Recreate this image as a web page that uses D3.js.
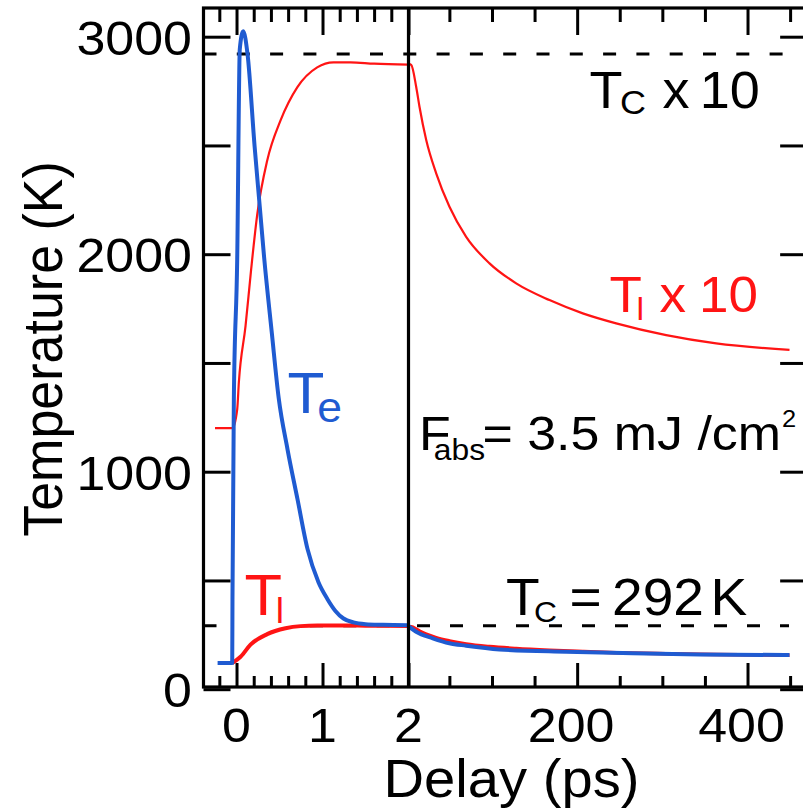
<!DOCTYPE html>
<html>
<head>
<meta charset="utf-8">
<script src="https://cdn.jsdelivr.net/npm/d3@7"></script>
<style>
body { margin: 0; background: #fff; }
svg { display: block; }
text { font-family: "Liberation Sans", Arial, sans-serif; }
</style>
</head>
<body>
<script>
// left panel, 0..2 ps
var teLeftT = [-0.22, -0.05, -0.047, -0.031, 0.008, 0.038, 0.078, 0.128, 0.21, 0.27, 0.32, 0.41, 0.49, 0.593, 0.709, 0.826, 0.953, 1.058, 1.15, 1.244, 1.36, 1.5, 1.7, 2.0];
var teLeft  = [120, 120, 413, 1333, 1977, 2943, 3025, 2920, 2497, 2220, 1990, 1640, 1340, 1103, 874, 644, 492, 414, 360, 325, 307, 299, 296, 294];

var tlLeftT = [-0.05, 0.047, 0.163, 0.357, 0.57, 0.744, 0.94, 1.2, 1.5, 2.0];
var tlLeft  = [120, 149, 205, 253, 280, 290, 293, 293, 292, 290];

var tl10LeftT = [-0.25, -0.047, 0.008, 0.027, 0.105, 0.17, 0.24, 0.357, 0.512, 0.706, 0.938, 1.128, 1.326, 1.6, 2.0];
var tl10Left  = [1200, 1200, 1287, 1410, 1670, 1930, 2180, 2431, 2615, 2767, 2859, 2882, 2882, 2876, 2872];

// right panel, 2..450 ps
var teRightT = [2, 11, 30.5, 50, 69.7, 108.8, 187.1, 265.3, 343.5, 449.3];
var teRight  = [290, 264, 234, 211, 200, 183, 172, 165, 160, 157];

var tl10RightT = [2, 5.2, 11, 14.9, 22.8, 34.5, 50.1, 69.7, 97.1, 128.4, 167.5, 206.6, 245.8, 304.5, 363.2, 449.3];
var tl10Right  = [2875, 2870, 2770, 2678, 2525, 2372, 2218, 2080, 1958, 1866, 1789, 1728, 1682, 1628, 1590, 1560];
var tlRight    = [288, 287, 277, 268, 253, 237, 222, 208, 196, 187, 179, 173, 168, 163, 159, 156];

var tc = 292;
var tc10 = 2920;

var yTickLabels = [0, 1000, 2000, 3000];
var yTicks = [0, 500, 1000, 1500, 2000, 2500, 3000];
var leftMajor = [0, 1, 2];
var leftMinor = [-0.2, 0.2, 0.4, 0.6, 0.8, 1.2, 1.4, 1.6, 1.8];
var rightMajor = [200, 400];
var rightMinor = [50, 100, 150, 250, 300, 350, 450];

var blue = "#1f5bd1";
var red = "#ff1414";
var stretch = 1.06;

var width = 803, height = 810;

var svg = d3.select("body").append("svg")
	.attr("width", width)
	.attr("height", height);

var yScale = d3.scaleLinear().domain([0, 3000]).range([689.2, 36.7]);
var yTop = 8, yBottom = 687;

var xLeft = d3.scaleLinear().domain([-0.384, 2]).range([203.5, 408.5]);
var xRight = d3.scaleLinear().domain([2, 470]).range([408.5, 408.5 + 468 * 0.8518]);
var xEnd = xRight(470);

var zip = (ts, vs) => ts.map((t, i) => [t, vs[i]]);

var lineFor = xs => d3.line()
	.x(d => xs(d[0]))
	.y(d => yScale(d[1]))
	.curve(d3.curveMonotoneX);

// dashed Tc lines
var dashes = svg.append("g")
	.attr("stroke", "black")
	.attr("stroke-width", 3)
	.attr("fill", "none");

dashes.append("line")
	.attr("x1", xLeft.range()[0]).attr("x2", 783)
	.attr("y1", yScale(tc10)).attr("y2", yScale(tc10))
	.attr("stroke-dasharray", "13,20.3");

dashes.append("line")
	.attr("x1", xLeft.range()[0]).attr("x2", xLeft(2))
	.attr("y1", yScale(tc)).attr("y2", yScale(tc))
	.attr("stroke-dasharray", "13,93.5,13,20.3,13,20.3,13,20.3");

dashes.append("line")
	.attr("x1", xRight(2)).attr("x2", 789)
	.attr("y1", yScale(tc)).attr("y2", yScale(tc))
	.attr("stroke-dasharray", "13,20")
	.attr("stroke-dashoffset", 24.5);

// curves
var curves = svg.append("g").attr("fill", "none").attr("stroke-linejoin", "round");

curves.append("path")
	.datum(zip(tl10LeftT, tl10Left))
	.attr("d", lineFor(xLeft))
	.attr("stroke", red)
	.attr("stroke-width", 2.2);

curves.append("path")
	.datum(zip(tl10RightT, tl10Right))
	.attr("d", lineFor(xRight))
	.attr("stroke", red)
	.attr("stroke-width", 2.2);

curves.append("path")
	.datum(zip(tlLeftT, tlLeft))
	.attr("d", lineFor(xLeft))
	.attr("stroke", red)
	.attr("stroke-width", 4);

curves.append("path")
	.datum(zip(tl10RightT, tlRight))
	.attr("d", lineFor(xRight))
	.attr("stroke", red)
	.attr("stroke-width", 3.5);

curves.append("path")
	.datum(zip(teLeftT, teLeft))
	.attr("d", lineFor(xLeft))
	.attr("stroke", blue)
	.attr("stroke-width", 4);

curves.append("path")
	.datum(zip(teRightT, teRight))
	.attr("d", lineFor(xRight))
	.attr("stroke", blue)
	.attr("stroke-width", 4);

// ticks
var addTicks = (axis, values, size, tx, ty) => {
	var g = svg.append("g")
		.attr("transform", "translate(" + tx + "," + ty + ")")
		.call(axis.tickValues(values).tickSize(-size).tickFormat(""));
	g.select(".domain").remove();
	g.selectAll(".tick line").attr("stroke", "black").attr("stroke-width", 3);
};

addTicks(d3.axisBottom(xLeft), leftMajor, 24, 0, yBottom);
addTicks(d3.axisBottom(xLeft), leftMinor, 11, 0, yBottom);
addTicks(d3.axisTop(xLeft), leftMajor, 27, 0, yTop);
addTicks(d3.axisTop(xLeft), leftMinor, 14, 0, yTop);
addTicks(d3.axisBottom(xRight), rightMajor, 24, 0, yBottom);
addTicks(d3.axisBottom(xRight), rightMinor, 11, 0, yBottom);
addTicks(d3.axisTop(xRight), rightMajor, 27, 0, yTop);
addTicks(d3.axisTop(xRight), rightMinor, 14, 0, yTop);
addTicks(d3.axisLeft(yScale), yTicks, 27, xLeft.range()[0], 0);
addTicks(d3.axisRight(yScale), yTicks, 27, xEnd, 0);

// frame
var frame = svg.append("g").attr("stroke", "black").attr("stroke-width", 3.2).attr("fill", "none");
frame.append("rect")
	.attr("x", xLeft.range()[0]).attr("y", yTop)
	.attr("width", xEnd - xLeft.range()[0]).attr("height", yBottom - yTop);
frame.append("line")
	.attr("x1", xLeft(2)).attr("x2", xLeft(2))
	.attr("y1", yTop).attr("y2", yBottom);

// text helper: parts positioned in local (unstretched) coordinates
var richText = (x, y, parts, color, anchor) => {
	var t = svg.append("text")
		.attr("transform", "translate(" + x + "," + y + ") scale(" + stretch + ",1)")
		.attr("fill", color || "black")
		.attr("text-anchor", anchor || "start");
	parts.forEach(p => {
		t.append("tspan")
			.attr("x", p.x || 0)
			.attr("y", p.y || 0)
			.attr("font-size", p.size)
			.text(p.text);
	});
	return t;
};

// tick labels
yTickLabels.forEach(v => richText(192, yScale(v) + 18, [{text: v, size: 49}], "black", "end"));
leftMajor.forEach(v => richText(xLeft(v), 742, [{text: v, size: 49}], "black", "middle"));
rightMajor.forEach(v => richText(xRight(v) - 6, 742, [{text: v, size: 49}], "black", "middle"));

// axis titles
richText(511.5, 797, [{text: "Delay (ps)", size: 53}], "black", "middle");
svg.append("text")
	.attr("transform", "translate(61.5,349) scale(" + stretch + ",1) rotate(-90)")
	.attr("text-anchor", "middle")
	.attr("font-size", 52)
	.text("Temperature (K)");

// annotations
richText(287.5, 413, [
	{text: "T", size: 57},
	{text: "e", x: 28, y: 9, size: 42}
], blue);

richText(244.5, 615, [
	{text: "T", size: 58},
	{text: "l", x: 29.5, y: 8, size: 35}
], red);

richText(589.5, 108, [
	{text: "T", size: 51},
	{text: "C", x: 28.8, y: 6, size: 34},
	{text: "x", x: 68.9, size: 51},
	{text: "10", x: 104, size: 51}
]);

richText(609.5, 312, [
	{text: "T", size: 50},
	{text: "l", x: 25.5, y: 8, size: 32},
	{text: "x", x: 47.2, size: 50},
	{text: "10", x: 84.5, size: 50}
], red);

richText(419, 450, [
	{text: "F", size: 49},
	{text: "abs", x: 14, y: 10, size: 30},
	{text: "= 3.5 mJ /cm", x: 59.8, size: 49},
	{text: "2", x: 342.5, y: -23, size: 24}
]);

richText(506, 615, [
	{text: "T", size: 52},
	{text: "C", x: 26.4, y: 7, size: 30},
	{text: "=", x: 60, size: 52},
	{text: "292", x: 100, size: 52},
	{text: "K", x: 193, size: 52}
]);
</script>
</body>
</html>
